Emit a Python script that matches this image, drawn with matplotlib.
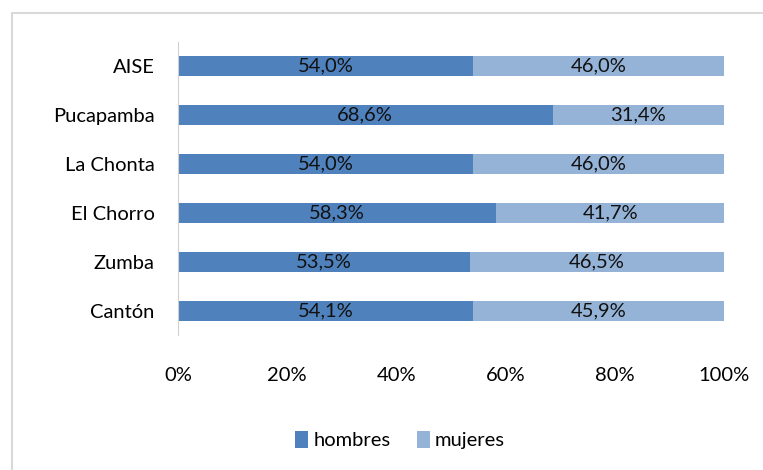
import numpy as np
import matplotlib
matplotlib.use('Agg')
import matplotlib.pyplot as plt
from matplotlib.patches import Rectangle

plt.rcParams['font.family'] = ['Lato', 'DejaVu Sans']

places = ['Cantón', 'Zumba', 'El Chorro', 'La Chonta', 'Pucapamba', 'AISE']
hombres = [54.1, 53.5, 58.3, 54.0, 68.6, 54.0]
mujeres = [45.9, 46.5, 41.7, 46.0, 31.4, 46.0]
ticks = [0, 20, 40, 60, 80, 100]

c_h = '#4F81BD'
c_m = '#95B3D7'
fs = 14.5

fig = plt.figure(figsize=(7.63, 4.70), dpi=100)
ax = fig.add_axes([0.2333, 0.287, 0.7156, 0.624])

y = np.arange(len(places))
b1 = ax.barh(y, hombres, height=0.41, color=c_h, label='hombres')
b2 = ax.barh(y, mujeres, left=hombres, height=0.41, color=c_m, label='mujeres')

for i in range(len(places)):
    ax.text(hombres[i] / 2, y[i], f'{hombres[i]:.1f}%'.replace('.', ','),
            ha='center', va='center', fontsize=fs, color='#111111')
    ax.text(hombres[i] + mujeres[i] / 2, y[i], f'{mujeres[i]:.1f}%'.replace('.', ','),
            ha='center', va='center', fontsize=fs, color='#111111')

ax.set_xlim(0, 100)
ax.set_ylim(-0.5, len(places) - 0.5)
ax.set_yticks(y)
ax.set_yticklabels(places, fontsize=fs)
ax.set_xticks(ticks)
ax.set_xticklabels([f'{t}%' for t in ticks], fontsize=fs)
ax.tick_params(axis='y', length=0, pad=17)
ax.tick_params(axis='x', length=0, pad=23)
for s in ['top', 'right', 'bottom']:
    ax.spines[s].set_visible(False)
ax.spines['left'].set_color('#D0D0D0')

fig.legend(handles=[b1, b2], loc='center', bbox_to_anchor=(400 / 763, 1 - 440 / 470),
           ncol=2, frameon=False, fontsize=fs, handlelength=0.65, handleheight=0.9,
           handletextpad=0.25, columnspacing=1.3)

fig.patches.append(Rectangle((12 / 763, -0.1), 1.2, 1 - 13 / 470 + 0.1,
                             transform=fig.transFigure, fill=False,
                             edgecolor='#D9D9D9', linewidth=1.5))

fig.savefig('out.png', dpi=100)
